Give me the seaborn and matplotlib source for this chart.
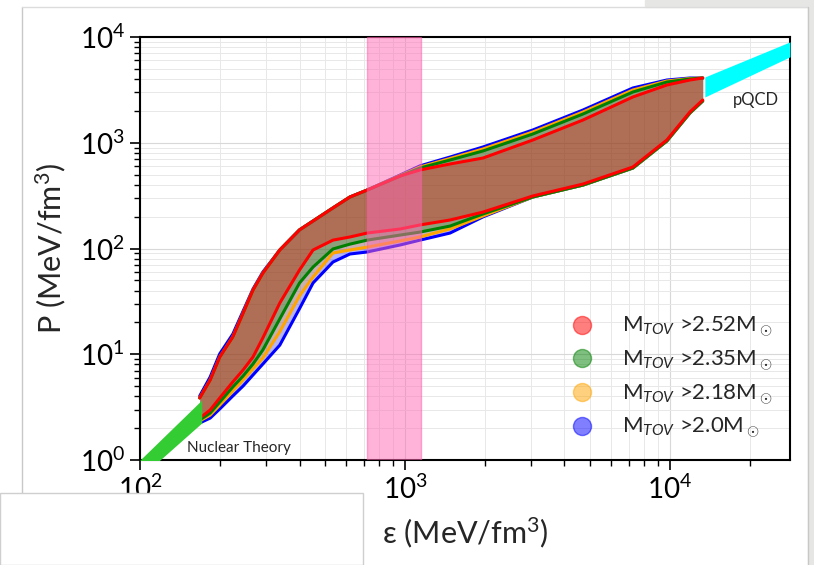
import matplotlib
matplotlib.use('Agg')
import matplotlib.pyplot as plt
import matplotlib.patches as mpatches
from matplotlib.lines import Line2D
import seaborn as sns

# energy density grid (MeV/fm^3) shared by the mass-constrained bands
eps = [168, 184, 200, 224, 245, 267, 291, 337, 400, 450, 535, 620, 720,
       960, 1140, 1480, 1970, 3040, 4700, 7250, 9740, 11900, 13300]

# pressure envelopes (MeV/fm^3)
red_up = [3.86, 5.71, 9.42, 14.6, 24.5, 40.5, 58.6, 96.8, 150, 182, 242, 307, 357,
          485, 553, 630, 717, 1062, 1641, 2710, 3515, 3920, 4095]
red_lo = [2.49, 2.97, 3.86, 5.47, 7.10, 9.42, 14.3, 30.5, 62.6, 96.8, 120, 128.5, 140,
          153, 167, 186, 221, 314, 407, 590, 1062, 1954, 2535]
green_up = [3.86, 5.71, 9.42, 14.6, 24.5, 40.5, 58.6, 96.8, 150, 182, 242, 307, 357,
            485, 577, 687, 836, 1211, 1871, 3020, 3751, 4008, 4095]
green_lo = [2.39, 2.78, 3.53, 4.90, 6.23, 8.09, 11.0, 21.6, 47.2, 66.8, 99, 110, 120,
            134, 143, 163, 212, 307, 398, 577, 1039, 1911, 2483]
orange_up = [3.86, 5.71, 9.42, 14.6, 24.5, 40.5, 58.6, 96.8, 150, 182, 242, 307, 357,
             490, 590, 710, 873, 1265, 1954, 3155, 3837, 4050, 4095]
orange_lo = [2.34, 2.66, 3.31, 4.49, 5.71, 7.25, 9.22, 16.3, 35.6, 53.8, 90.6, 96.8, 103,
             118, 128.5, 153, 203, 307, 398, 577, 1039, 1911, 2483]
blue_up = [4.03, 6.10, 10.1, 15.5, 25.6, 41.4, 60, 96.8, 150, 182, 242, 307, 357,
           496, 605, 733, 912, 1321, 2040, 3296, 3920, 4095, 4095]
blue_lo = [2.24, 2.49, 3.04, 4.03, 5.01, 6.37, 8.09, 12.2, 27, 47.2, 74.5, 88.7, 92.7,
           108, 120, 140, 199, 307, 398, 577, 1039, 1911, 2483]

# nuclear theory and pQCD bands
nuc_eps = [100, 171]
nuc_lo = [0.68, 2.24]
nuc_hi = [1.0, 3.69]
pqcd_eps = [13550, 28400]
pqcd_lo = [2710, 6500]
pqcd_hi = [4187, 9000]

# pink vertical band
band_lo, band_hi = 720, 1150

labels = ['M$_{TOV}$ >2.52M$_\\odot$', 'M$_{TOV}$ >2.35M$_\\odot$',
          'M$_{TOV}$ >2.18M$_\\odot$', 'M$_{TOV}$ >2.0M$_\\odot$']
colors = ['red', 'green', 'orange', 'blue']

sns.set_theme(style='whitegrid')
plt.rcParams.update({
    'font.family': ['Lato', 'DejaVu Sans'],
    'mathtext.fontset': 'custom',
    'mathtext.rm': 'Lato',
    'mathtext.it': 'Lato:italic',
    'mathtext.bf': 'Lato:bold',
    'axes.edgecolor': 'black',
    'axes.linewidth': 1.5,
    'xtick.bottom': True, 'ytick.left': True,
    'xtick.major.size': 7, 'ytick.major.size': 7,
    'xtick.minor.size': 4, 'ytick.minor.size': 4,
    'xtick.major.width': 1.2, 'ytick.major.width': 1.2,
    'xtick.minor.width': 1.0, 'ytick.minor.width': 1.0,
    'xtick.color': 'black', 'ytick.color': 'black',
})

fig = plt.figure(figsize=(8.14, 5.65), dpi=100, facecolor='white')
ax = fig.add_axes([140/814, 1 - 460/565, 650/814, 423/565])
ax.set_xscale('log')
ax.set_yscale('log')

bands = [(blue_up, blue_lo, 'blue'), (orange_up, orange_lo, 'orange'),
         (green_up, green_lo, 'green'), (red_up, red_lo, 'red')]
for up, lo, c in bands:
    ax.fill_between(eps, lo, up, color=c, alpha=0.3, lw=0, zorder=2)
for up, lo, c in bands:
    sns.lineplot(x=eps, y=up, color=c, lw=2.2, ax=ax, zorder=3)
    sns.lineplot(x=eps, y=lo, color=c, lw=2.2, ax=ax, zorder=3)

ax.fill_between(nuc_eps, nuc_lo, nuc_hi, color='#33cc33', lw=0, zorder=4)
ax.fill_between(pqcd_eps, pqcd_lo, pqcd_hi, color='cyan', lw=0, zorder=4)
ax.axvspan(band_lo, band_hi, facecolor='hotpink', edgecolor='#ff5aa8', alpha=0.5, lw=1, zorder=5)

ax.text(150, 1.12, 'Nuclear Theory', fontsize=11, va='bottom', zorder=6)
ax.text(17300, 2535, 'pQCD', fontsize=12, va='center', zorder=6)

ax.set_xlim(100, 28400)
ax.set_ylim(1, 1e4)
ax.grid(True, which='major', color='#d8d8d8', lw=0.8)
ax.grid(True, which='minor', color='#e8e8e8', lw=0.7)
ax.tick_params(axis='both', which='major', labelsize=20, pad=4)
ax.set_xlabel('ε (MeV/fm$^3$)', fontsize=22, labelpad=8)
ax.set_ylabel('P (MeV/fm$^3$)', fontsize=22, labelpad=8)

handles = [Line2D([], [], marker='o', ls='', color=c, alpha=0.5, markersize=13) for c in colors]
ax.legend(handles, labels, frameon=False, fontsize=16, loc='upper left',
          bbox_to_anchor=(0.615, 0.39), labelspacing=0.42, handletextpad=0.8)

# screenshot window frame around the plot
fig.patches.append(mpatches.Rectangle((645/814, 1 - 7/565), 169/814, 7/565,
                                      transform=fig.transFigure, color='#e6e6e4', zorder=10))
fig.patches.append(mpatches.Rectangle((808/814, 0), 6/814, 1,
                                      transform=fig.transFigure, color='#e6e6e4', zorder=10))
fig.lines.append(Line2D([22/814, 22/814], [1 - 493/565, 1 - 7/565], transform=fig.transFigure,
                        color='#c8c8c8', lw=1, zorder=11))
fig.lines.append(Line2D([22/814, 808/814], [1 - 7/565, 1 - 7/565], transform=fig.transFigure,
                        color='#dcdcdc', lw=1, zorder=11))
fig.lines.append(Line2D([808/814, 808/814], [0, 1 - 7/565], transform=fig.transFigure,
                        color='#c8c8c8', lw=1, zorder=11))
fig.patches.append(mpatches.Rectangle((0, 0), 363/814, 1 - 493/565, transform=fig.transFigure,
                                      facecolor='white', edgecolor='#cfcfcf', lw=1, zorder=12))

fig.savefig('out.png', dpi=100, facecolor='white')
